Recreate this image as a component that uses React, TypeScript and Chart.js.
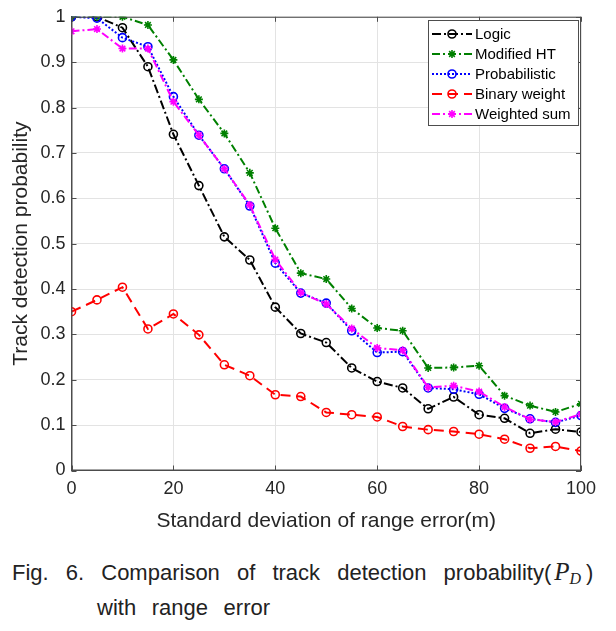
import React, { useEffect, useRef } from "react";
import { Chart, registerables } from "chart.js";
Chart.register(...registerables);

const xValues = [0, 5, 10, 15, 20, 25, 30, 35, 40, 45, 50, 55, 60, 65, 70, 75, 80, 85, 90, 95, 100];
const logic = [1.0, 1.0, 0.976, 0.89, 0.741, 0.628, 0.515, 0.464, 0.36, 0.302, 0.282, 0.226, 0.196, 0.182, 0.136, 0.162, 0.123, 0.115, 0.082, 0.091, 0.085];
const modifiedHT = [1.0, 1.0, 1.0, 0.982, 0.905, 0.818, 0.743, 0.656, 0.534, 0.435, 0.422, 0.357, 0.314, 0.308, 0.226, 0.227, 0.231, 0.165, 0.143, 0.129, 0.147];
const probabilistic = [1.0, 0.997, 0.954, 0.934, 0.824, 0.739, 0.665, 0.583, 0.457, 0.391, 0.369, 0.308, 0.26, 0.262, 0.182, 0.179, 0.168, 0.137, 0.114, 0.106, 0.121];
const binaryWeight = [0.35, 0.376, 0.404, 0.312, 0.345, 0.299, 0.233, 0.209, 0.167, 0.163, 0.128, 0.123, 0.118, 0.097, 0.09, 0.086, 0.08, 0.069, 0.049, 0.053, 0.043];
const weightedSum = [0.968, 0.973, 0.93, 0.93, 0.813, 0.739, 0.665, 0.585, 0.465, 0.392, 0.367, 0.313, 0.27, 0.265, 0.183, 0.187, 0.174, 0.14, 0.113, 0.107, 0.124];
const seriesNames = ["Logic", "Modified HT", "Probabilistic", "Binary weight", "Weighted sum"];
const xTitle = "Standard deviation of range error(m)";
const yTitle = "Track detection probability";

const FONT = "'Liberation Sans', Arial, Helvetica, sans-serif";
const AXIS_COLOR = "#4d4d4d";
const TEXT_COLOR = "#262626";

function drawMarker(ctx: CanvasRenderingContext2D, style: string, x: number, y: number, r: number) {
  ctx.beginPath();
  if (style === "circle") {
    ctx.arc(x, y, r, 0, Math.PI * 2);
  } else {
    for (let k = 0; k < 4; k++) {
      const a = (k * Math.PI) / 4;
      ctx.moveTo(x - Math.cos(a) * r, y - Math.sin(a) * r);
      ctx.lineTo(x + Math.cos(a) * r, y + Math.sin(a) * r);
    }
  }
  ctx.stroke();
}

const boxAndTicks = {
  id: "boxAndTicks",
  afterDatasetsDraw(chart: any) {
    const { ctx, chartArea } = chart;
    const { left, right, top, bottom } = chartArea;
    ctx.save();
    ctx.strokeStyle = AXIS_COLOR;
    ctx.lineWidth = 1;
    ctx.beginPath();
    ctx.moveTo(left, top + 0.5);
    ctx.lineTo(right, top + 0.5);
    ctx.moveTo(right - 0.5, top);
    ctx.lineTo(right - 0.5, bottom);
    ctx.moveTo(left + 0.5, top);
    ctx.lineTo(left + 0.5, bottom);
    ctx.moveTo(left, bottom - 0.5);
    ctx.lineTo(right, bottom - 0.5);
    const xs = chart.scales.x;
    const ys = chart.scales.y;
    const tl = 5;
    xs.ticks.forEach((t: any) => {
      const px = Math.round(xs.getPixelForValue(t.value)) + 0.5;
      ctx.moveTo(px, bottom);
      ctx.lineTo(px, bottom - tl);
      ctx.moveTo(px, top);
      ctx.lineTo(px, top + tl);
    });
    ys.ticks.forEach((t: any) => {
      const py = Math.round(ys.getPixelForValue(t.value)) + 0.5;
      ctx.moveTo(left, py);
      ctx.lineTo(left + tl, py);
      ctx.moveTo(right, py);
      ctx.lineTo(right - tl, py);
    });
    ctx.stroke();
    ctx.restore();
  },
};

const customLegend = {
  id: "customLegend",
  afterDraw(chart: any) {
    const { ctx } = chart;
    const bx = 428.5, by = 20.5, bw = 150, bh = 105;
    ctx.save();
    ctx.fillStyle = "#ffffff";
    ctx.fillRect(bx, by, bw, bh);
    ctx.strokeStyle = AXIS_COLOR;
    ctx.lineWidth = 1;
    ctx.strokeRect(bx, by, bw, bh);
    chart.data.datasets.forEach((ds: any, i: number) => {
      const y = 34 + i * 20;
      ctx.save();
      ctx.strokeStyle = ds.borderColor;
      ctx.lineWidth = ds.borderWidth;
      ctx.setLineDash(ds.borderDash || []);
      ctx.beginPath();
      ctx.moveTo(432, y);
      ctx.lineTo(472, y);
      ctx.stroke();
      ctx.setLineDash([]);
      ctx.lineWidth = ds.pointBorderWidth;
      ctx.strokeStyle = ds.pointBorderColor;
      drawMarker(ctx, ds.pointStyle, 452, y, ds.pointRadius);
      ctx.restore();
      ctx.fillStyle = "#000000";
      ctx.font = `15px ${FONT}`;
      ctx.textBaseline = "middle";
      ctx.textAlign = "left";
      ctx.fillText(seriesNames[i], 475, y + 0.5);
    });
    ctx.restore();
  },
};

export default function App() {
  const canvasRef = useRef<HTMLCanvasElement | null>(null);

  useEffect(() => {
    document.body.style.margin = "0";
    const canvas = canvasRef.current;
    if (!canvas) return;
    const mk = (label: string, data: number[], color: string, dash: number[], style: string, order: number) => ({
      label,
      data: xValues.map((x, i) => ({ x, y: data[i] })),
      borderColor: color,
      backgroundColor: "rgba(0,0,0,0)",
      borderWidth: 2,
      borderDash: dash,
      pointStyle: style,
      pointRadius: 4,
      pointBorderWidth: 1.6,
      pointBorderColor: color,
      pointBackgroundColor: "rgba(0,0,0,0)",
      tension: 0,
      order,
    });
    const chart = new Chart(canvas, {
      type: "line",
      data: {
        datasets: [
          mk(seriesNames[0], logic, "#000000", [9, 3, 2, 3], "circle", 5),
          mk(seriesNames[1], modifiedHT, "#008000", [8, 3, 2, 3], "star", 4),
          mk(seriesNames[2], probabilistic, "#0000ff", [2, 2], "circle", 3),
          mk(seriesNames[3], binaryWeight, "#ff0000", [10, 6], "circle", 2),
          mk(seriesNames[4], weightedSum, "#ff00ff", [8, 3, 2, 3], "star", 1),
        ] as any,
      },
      options: {
        responsive: false,
        animation: false,
        devicePixelRatio: 1,
        layout: { padding: { top: 16, right: 35, left: 0, bottom: 0 } },
        plugins: { legend: { display: false }, tooltip: { enabled: false } },
        scales: {
          x: {
            type: "linear",
            min: 0,
            max: 100,
            ticks: { stepSize: 20, font: { family: FONT, size: 18 }, color: TEXT_COLOR, padding: 8, maxRotation: 0 },
            grid: { color: "#e3e3e3", drawTicks: false },
            border: { color: AXIS_COLOR, width: 1 },
            title: { display: true, text: xTitle, font: { family: FONT, size: 21 }, color: TEXT_COLOR, padding: { top: 4, bottom: 6 } },
            afterFit: (s: any) => { s.height = 69.5; },
          },
          y: {
            min: 0,
            max: 1,
            ticks: {
              stepSize: 0.1,
              font: { family: FONT, size: 18 },
              color: TEXT_COLOR,
              padding: 6,
              callback: (v: any) => String(Number(Number(v).toFixed(1))),
            },
            grid: { color: "#e3e3e3", drawTicks: false },
            border: { color: AXIS_COLOR, width: 1 },
            title: { display: true, text: yTitle, font: { family: FONT, size: 21 }, color: TEXT_COLOR, padding: { top: 9, bottom: 0 } },
            afterFit: (s: any) => { s.width = 71.5; },
          },
        },
      } as any,
      plugins: [boxAndTicks, customLegend],
    });
    return () => chart.destroy();
  }, []);

  const captionStyle: React.CSSProperties = {
    position: "absolute",
    fontFamily: FONT,
    fontSize: 22,
    lineHeight: "26px",
    color: "#222",
    wordSpacing: 9.5,
    whiteSpace: "nowrap",
  };

  return (
    <div style={{ position: "relative", width: 616, height: 631, background: "#fff", overflow: "hidden" }}>
      <canvas ref={canvasRef} width={616} height={540} style={{ position: "absolute", left: 0, top: 0, width: 616, height: 540 }} />
      <div style={{ ...captionStyle, left: 12, top: 558.5, wordSpacing: 11 }}>
        Fig. 6. Comparison of track detection probability(
        <span style={{ fontFamily: "'Liberation Serif', 'DejaVu Serif', serif", fontStyle: "italic", fontSize: 25, marginLeft: 3, marginRight: 5 }}>
          P<sub style={{ fontSize: 16, verticalAlign: "-4px" }}>D</sub>
        </span>
        )
      </div>
      <div style={{ ...captionStyle, left: 97, top: 594.5 }}>with range error</div>
    </div>
  );
}
